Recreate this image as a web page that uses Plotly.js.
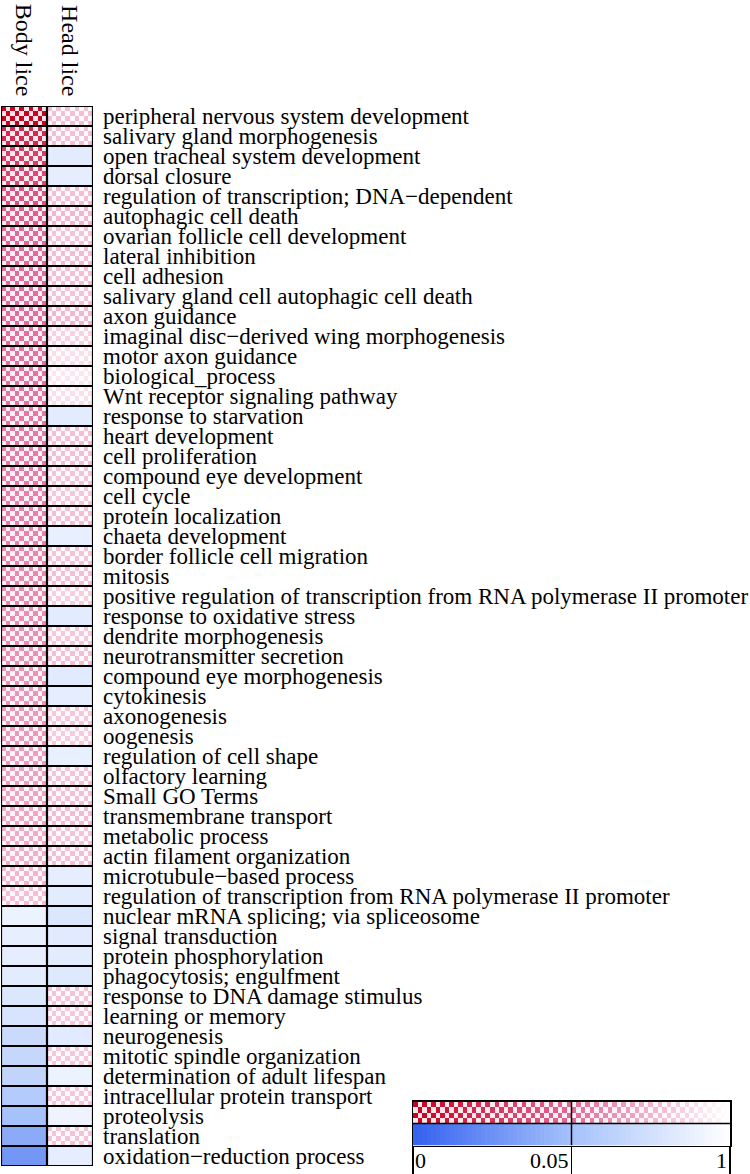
<!DOCTYPE html>
<html>
<head>
<meta charset="utf-8">
<script src="https://cdn.plot.ly/plotly-3.0.1.min.js"></script>
<style>html,body{margin:0;padding:0;background:#fff;}#chart{width:750px;height:1174px;}</style>
</head>
<body>
<div id="chart"></div>
<script>
// ---------------- data ----------------
const colLabels = ["Body lice", "Head lice"];
const rowLabels = [
  "peripheral nervous system development",
  "salivary gland morphogenesis",
  "open tracheal system development",
  "dorsal closure",
  "regulation of transcription; DNA\u2212dependent",
  "autophagic cell death",
  "ovarian follicle cell development",
  "lateral inhibition",
  "cell adhesion",
  "salivary gland cell autophagic cell death",
  "axon guidance",
  "imaginal disc\u2212derived wing morphogenesis",
  "motor axon guidance",
  "biological_process",
  "Wnt receptor signaling pathway",
  "response to starvation",
  "heart development",
  "cell proliferation",
  "compound eye development",
  "cell cycle",
  "protein localization",
  "chaeta development",
  "border follicle cell migration",
  "mitosis",
  "positive regulation of transcription from RNA polymerase II promoter",
  "response to oxidative stress",
  "dendrite morphogenesis",
  "neurotransmitter secretion",
  "compound eye morphogenesis",
  "cytokinesis",
  "axonogenesis",
  "oogenesis",
  "regulation of cell shape",
  "olfactory learning",
  "Small GO Terms",
  "transmembrane transport",
  "metabolic process",
  "actin filament organization",
  "microtubule\u2212based process",
  "regulation of transcription from RNA polymerase II promoter",
  "nuclear mRNA splicing; via spliceosome",
  "signal transduction",
  "protein phosphorylation",
  "phagocytosis; engulfment",
  "response to DNA damage stimulus",
  "learning or memory",
  "neurogenesis",
  "mitotic spindle organization",
  "determination of adult lifespan",
  "intracellular protein transport",
  "proteolysis",
  "translation",
  "oxidation\u2212reduction process"
];
// p-values and direction (over = red checkered, under = blue)
const bodyP = [0.002, 0.02, 0.03, 0.035, 0.04, 0.045, 0.05, 0.06, 0.07, 0.08,
  0.09, 0.1, 0.11, 0.12, 0.13, 0.15, 0.16, 0.17, 0.18, 0.2,
  0.21, 0.22, 0.24, 0.25, 0.26, 0.28, 0.29, 0.3, 0.32, 0.33,
  0.35, 0.36, 0.38, 0.4, 0.42, 0.44, 0.47, 0.5, 0.54, 0.6,
  0.8, 0.74, 0.72, 0.7, 0.62, 0.58, 0.42, 0.38, 0.34, 0.2,
  0.05, 0.038, 0.028];
const bodyDir = ["over","over","over","over","over","over","over","over","over","over",
  "over","over","over","over","over","over","over","over","over","over",
  "over","over","over","over","over","over","over","over","over","over",
  "over","over","over","over","over","over","over","over","over","over",
  "under","under","under","under","under","under","under","under","under","under",
  "under","under","under"];
const headP = [0.6, 0.6, 0.7, 0.72, 0.6, 0.55, 0.62, 0.58, 0.6, 0.62,
  0.55, 0.72, 0.8, 0.85, 0.8, 0.7, 0.6, 0.6, 0.62, 0.65,
  0.6, 0.75, 0.62, 0.6, 0.7, 0.7, 0.65, 0.6, 0.68, 0.72,
  0.65, 0.68, 0.75, 0.62, 0.6, 0.58, 0.62, 0.6, 0.72, 0.7,
  0.62, 0.68, 0.7, 0.65, 0.62, 0.65, 0.68, 0.65, 0.8, 0.65,
  0.82, 0.62, 0.72];
const headDir = ["over","over","under","under","over","over","over","over","over","over",
  "over","over","over","over","over","under","over","over","over","over",
  "over","under","over","over","over","under","over","over","under","under",
  "over","over","under","over","over","over","over","over","under","under",
  "under","under","under","under","over","over","under","over","under","over",
  "under","over","under"];
const legendTicks = [0, 0.05, 1];
const legendTickText = ["0", "0.05", "1"];

// ---------------- encoding ----------------
function pos(p) { return p <= 0.05 ? 0.5 * p / 0.05 : 0.5 + 0.5 * (p - 0.05) / 0.95; }
function enc(p, dir) { const s = 1 - pos(p); return dir === "over" ? -s : s; }
const colorscale = [[0, "#c8001e"], [0.25, "#e2689a"], [0.5, "#ffffff"], [0.75, "#a6c2fb"], [1, "#3461f0"]];
const whiteScale = [[0, "#ffffff"], [1, "#ffffff"]];

const N = rowLabels.length;
const rowIdx = rowLabels.map((_, i) => i);
const colIdx = colLabels.map((_, i) => i);
const dirs = rowLabels.map((_, r) => [bodyDir[r], headDir[r]]);
const zMain = rowLabels.map((_, r) => [enc(bodyP[r], bodyDir[r]), enc(headP[r], headDir[r])]);

// checker overlay (white squares over "over" cells)
const NX = 10, NY = 4;
const cx = [], cy = [];
colIdx.forEach(c => { for (let i = 0; i < NX; i++) cx.push(c - 0.5 + (i + 0.5) / NX); });
rowIdx.forEach(r => { for (let j = 0; j < NY; j++) cy.push(r - 0.5 + (j + 0.5) / NY); });
const zCheck = cy.map((_, gj) => cx.map((_, gi) => {
  const r = Math.floor(gj / NY), c = Math.floor(gi / NX);
  return (dirs[r][c] === "over" && (gi + gj) % 2 === 1) ? 1 : null;
}));

// grid lines
const gx = [], gy = [];
for (let k = 0; k <= N; k++) { gx.push(-0.5, colLabels.length - 0.5, null); gy.push(k - 0.5, k - 0.5, null); }
for (let k = 0; k <= colLabels.length; k++) { gx.push(k - 0.5, k - 0.5, null); gy.push(-0.5, N - 0.5, null); }

// legend
const NL = 70;
const lx = [];
for (let i = 0; i < NL; i++) lx.push((i + 0.5) / NL);
const zLeg = [lx.map(t => -(1 - t)), lx.map(t => 1 - t)];
const LY = 4;
const lcy = [];
for (let j = 0; j < LY; j++) lcy.push(-0.5 + (j + 0.5) / LY);
const zLegCheck = lcy.map((_, j) => lx.map((_, i) => ((i + j) % 2 === 1) ? 1 : null));
const midPos = pos(legendTicks[1]);
const lgx = [0, 1, null, midPos, midPos], lgy = [0.5, 0.5, null, -0.5, 1.5];

const traces = [
  { type: "heatmap", x: colIdx, y: rowIdx, z: zMain, zmin: -1, zmax: 1, colorscale: colorscale,
    showscale: false, hoverinfo: "skip", xaxis: "x", yaxis: "y" },
  { type: "heatmap", x: cx, y: cy, z: zCheck, zmin: 0, zmax: 1, colorscale: whiteScale,
    showscale: false, opacity: 0.9, hoverinfo: "skip", xaxis: "x", yaxis: "y" },
  { type: "scatter", mode: "lines", x: gx, y: gy, line: { color: "#000", width: 2.2 },
    cliponaxis: false, hoverinfo: "skip", xaxis: "x", yaxis: "y" },
  { type: "heatmap", x: lx, y: [0, 1], z: zLeg, zmin: -1, zmax: 1, colorscale: colorscale,
    showscale: false, hoverinfo: "skip", xaxis: "x2", yaxis: "y2" },
  { type: "heatmap", x: lx, y: lcy, z: zLegCheck, zmin: 0, zmax: 1, colorscale: whiteScale,
    showscale: false, opacity: 0.9, hoverinfo: "skip", xaxis: "x2", yaxis: "y2" },
  { type: "scatter", mode: "lines", x: lgx, y: lgy, line: { color: "#000", width: 1.5 },
    cliponaxis: false, hoverinfo: "skip", xaxis: "x2", yaxis: "y2" }
];

const serif = "Liberation Serif, Times New Roman, serif";
const PW = 749, PH = 1060;
const layout = {
  width: 750, height: 1174,
  margin: { l: 1, r: 0, t: 106, b: 8, pad: 0 },
  paper_bgcolor: "#fff", plot_bgcolor: "#fff",
  showlegend: false,
  font: { family: serif, color: "#000" },
  xaxis: { domain: [0, 92 / PW], range: [-0.5, colLabels.length - 0.5], side: "top",
    tickmode: "array", tickvals: colIdx, ticktext: colLabels, tickangle: 90, ticks: "",
    tickfont: { family: serif, size: 24, color: "#000" }, ticklabelstandoff: 5,
    showgrid: false, zeroline: false, showline: false, automargin: false, fixedrange: true },
  yaxis: { domain: [0, 1], anchor: "x", side: "right", range: [N - 0.5, -0.5],
    tickmode: "array", tickvals: rowIdx, ticktext: rowLabels, ticks: "",
    tickfont: { family: serif, size: 23, color: "#000" }, ticklabelstandoff: 9,
    showgrid: false, zeroline: false, showline: false, automargin: false, fixedrange: true },
  xaxis2: { domain: [412 / PW, 729 / PW], anchor: "y2", range: [0, 1],
    tickmode: "array", tickvals: legendTicks.map(pos), ticks: "outside", ticklen: 28, tickwidth: 1.5,
    tickcolor: "#000", showticklabels: false, showgrid: false, zeroline: false,
    showline: true, mirror: true, linecolor: "#000", linewidth: 1.5, automargin: false, fixedrange: true },
  yaxis2: { domain: [(1166 - 1145.5) / PH, (1166 - 1101.5) / PH], anchor: "x2", range: [1.5, -0.5],
    showticklabels: false, ticks: "", showgrid: false, zeroline: false,
    showline: true, mirror: true, linecolor: "#000", linewidth: 1.5, automargin: false, fixedrange: true },
  annotations: legendTicks.map((v, i) => ({
    xref: "x2", yref: "paper", x: pos(v), y: (1166 - 1160) / PH,
    text: legendTickText[i], showarrow: false,
    xanchor: i === 0 ? "left" : "right", yanchor: "middle",
    xshift: i === 0 ? 0 : -1,
    font: { family: serif, size: 22, color: "#000" }
  }))
};

Plotly.newPlot("chart", traces, layout, { staticPlot: true, displayModeBar: false });
</script>
</body>
</html>
